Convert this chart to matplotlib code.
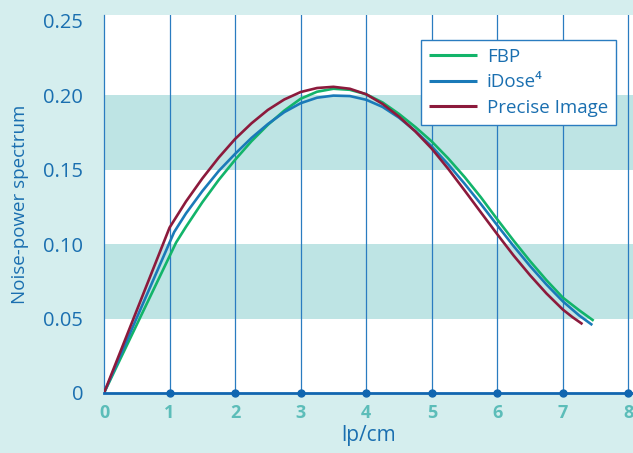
import matplotlib
matplotlib.use("Agg")
import matplotlib.pyplot as plt

# ---- data ----
fbp_x = [0, 1.1, 1.25, 1.5, 1.75, 2.0, 2.25, 2.5, 2.75, 3.0, 3.25, 3.5, 3.75, 4.0, 4.25, 4.5,
         4.75, 5.0, 5.25, 5.5, 5.75, 6.0, 6.25, 6.5, 6.75, 7.0, 7.25, 7.47]
fbp_y = [0, 0.101, 0.1115, 0.1280, 0.1430, 0.1565, 0.1690, 0.1800, 0.1895, 0.1975, 0.2022, 0.2042,
         0.2035, 0.2005, 0.1950, 0.1873, 0.1785, 0.1688, 0.1575, 0.1450, 0.1313, 0.1165, 0.1022,
         0.0885, 0.0757, 0.0640, 0.0555, 0.0485]

idose_x = [0, 1.07, 1.25, 1.5, 1.75, 2.0, 2.25, 2.5, 2.75, 3.0, 3.25, 3.5, 3.75, 4.0, 4.25, 4.5,
           4.75, 5.0, 5.25, 5.5, 5.75, 6.0, 6.25, 6.5, 6.75, 7.0, 7.25, 7.45]
idose_y = [0, 0.108, 0.1205, 0.1355, 0.1490, 0.1605, 0.1712, 0.1805, 0.1885, 0.1945, 0.1982, 0.1996,
           0.1993, 0.1968, 0.1920, 0.1848, 0.1758, 0.1655, 0.1535, 0.1405, 0.1268, 0.1125, 0.0985,
           0.0852, 0.0728, 0.0615, 0.0520, 0.0456]

precise_x = [0, 1.0, 1.25, 1.5, 1.75, 2.0, 2.25, 2.5, 2.75, 3.0, 3.25, 3.5, 3.75, 4.0, 4.25, 4.5,
             4.75, 5.0, 5.25, 5.5, 5.75, 6.0, 6.25, 6.5, 6.75, 7.0, 7.15, 7.3]
precise_y = [0, 0.111, 0.1285, 0.1440, 0.1580, 0.1705, 0.1810, 0.1900, 0.1970, 0.2020, 0.2047, 0.2055,
             0.2042, 0.2005, 0.1940, 0.1855, 0.1755, 0.1640, 0.1505, 0.1360, 0.1212, 0.1065, 0.0922,
             0.0790, 0.0668, 0.0560, 0.0508, 0.0462]

series_names = ["FBP", "iDose\u2074", "Precise Image"]
x_ticks = [0, 1, 2, 3, 4, 5, 6, 7, 8]
y_ticks = [0, 0.05, 0.10, 0.15, 0.20, 0.25]
y_tick_labels = ["0", "0.05", "0.10", "0.15", "0.20", "0.25"]
bands = [(0.05, 0.10), (0.15, 0.20)]

# ---- style ----
plt.rcParams['font.family'] = ['Open Sans', 'DejaVu Sans']
BG = "#d5eeee"
BAND = "#bee4e4"
BLUE = "#1a6fb0"
GRID = "#2a7cc0"
TEAL = "#5cbdb9"
colors = ["#12b46a", "#1a7ab8", "#8c1a3c"]

fig = plt.figure(figsize=(6.33, 4.53), dpi=100)
fig.patch.set_facecolor(BG)
ax = fig.add_axes([104/633, 60/453, 1 - 104/633, 378/453])
ax.set_facecolor("white")
ax.set_xlim(0, 8.07)
ax.set_ylim(0, 0.2537)

for lo, hi in bands:
    ax.axhspan(lo, hi, color=BAND, lw=0, zorder=0)

for xv in x_ticks[1:]:
    ax.axvline(xv, color=GRID, lw=0.9, zorder=1)

for s in ["top", "right"]:
    ax.spines[s].set_visible(False)
ax.spines["left"].set_color(GRID)
ax.spines["left"].set_linewidth(0.9)
ax.spines["bottom"].set_color("#1166b0")
ax.spines["bottom"].set_linewidth(2.0)
ax.spines["bottom"].set_zorder(4)

for (xs, ys), c, n in zip([(fbp_x, fbp_y), (idose_x, idose_y), (precise_x, precise_y)], colors, series_names):
    ax.plot(xs, ys, color=c, lw=1.9, label=n, zorder=3, solid_joinstyle="round",
            solid_capstyle="butt")

ax.plot(x_ticks[1:], [0] * (len(x_ticks) - 1), "o", color="#1166b0", ms=5,
        zorder=5, clip_on=False)

ax.set_xticks(x_ticks)
ax.set_xticklabels([str(v) for v in x_ticks], color=TEAL, fontsize=13, fontweight="bold")
ax.set_yticks(y_ticks)
ax.set_yticklabels(y_tick_labels, color=BLUE, fontsize=14.5)
ax.tick_params(axis="x", length=0, pad=8)
ax.tick_params(axis="y", length=0, pad=15)

ax.set_xlabel("lp/cm", color=BLUE, fontsize=15, labelpad=2)
ax.set_ylabel("Noise-power spectrum", color=BLUE, fontsize=13.5, labelpad=10)

leg = ax.legend(loc="upper right", bbox_to_anchor=(0.968, 0.934), frameon=True,
                fancybox=False, fontsize=13.5, handlelength=2.55, handletextpad=0.55,
                borderpad=0.42, labelspacing=0.4, borderaxespad=0)
leg.get_frame().set_edgecolor(GRID)
leg.get_frame().set_linewidth(1.0)
leg.get_frame().set_facecolor("white")
leg.get_frame().set_alpha(1)
for t in leg.get_texts():
    t.set_color(BLUE)
for h in leg.get_lines():
    h.set_linewidth(2.2)
leg.set_zorder(6)

fig.savefig("out.png", dpi=100, facecolor=BG)
